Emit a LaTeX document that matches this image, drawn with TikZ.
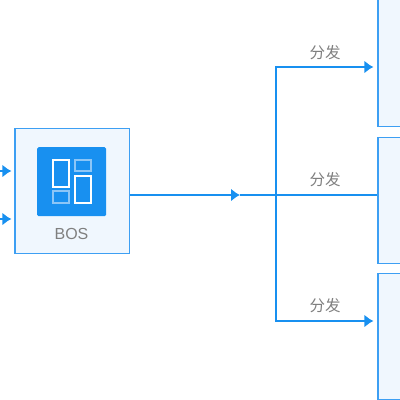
\documentclass[tikz,border=0pt]{standalone}
\usepackage{fontspec}
\usepackage{xcolor}
\usetikzlibrary{arrows.meta,positioning}
\setmainfont{Liberation Sans}
\newfontfamily\cjk{Noto Sans CJK SC}
\definecolor{FlowBlue}{HTML}{1890F0}
\definecolor{EdgeBlue}{HTML}{3D9FF3}
\definecolor{SoftBlue}{HTML}{F0F7FE}
\definecolor{PaleBlue}{HTML}{8CC6F7}
\definecolor{LabelGray}{HTML}{7F7F7F}

\begin{document}
\begin{tikzpicture}[x=1pt,y=-1pt,>={Latex[length=9pt,width=13pt]},
 panel/.style={draw=EdgeBlue,fill=SoftBlue,line width=1.1pt,inner sep=0pt,minimum width=114.5pt,minimum height=124.5pt},
 flow/.style={draw=FlowBlue,line width=2.2pt},
 branch/.style={draw=FlowBlue,line width=2.9pt},
 tile/.style={inner sep=0pt,minimum width=16pt,line width=2.3pt},
 send/.style={text=LabelGray,font=\cjk\fontsize{15.5}{15.5}\selectfont,inner sep=0pt}]
\useasboundingbox (0,0) rectangle (400,400);
\clip (0,0) rectangle (400,400);
\node[panel,anchor=north west] (bos) at (14.4,128.2) {};
\node[panel,anchor=north west,minimum height=140pt] (dist1) at (377.4,-14) {};
\node[panel,anchor=north west,minimum height=125.5pt] (dist2) at (377.4,137.2) {};
\node[panel,anchor=north west,minimum height=125.5pt] (dist3) at (377.4,273.2) {};
\node[anchor=north west,fill=FlowBlue,rounded corners=1.5pt,inner sep=0pt,minimum size=69pt] (icon) at (37,147) {};
\node[tile,draw=white,anchor=north west,minimum height=27pt] (tallL) at (52,159) {};
\node[tile,draw=PaleBlue,anchor=north west,minimum height=11pt] (smallR) at (74,159) {};
\node[tile,draw=white,anchor=north west,minimum height=27pt] (tallR) at (74,175) {};
\node[tile,draw=PaleBlue,anchor=north west,minimum height=12pt] (smallL) at (52,190) {};
\node[text=LabelGray,font=\fontsize{16}{16}\selectfont,inner sep=0pt] (boslabel) at (71.5,234) {BOS};
\coordinate (in1) at (0,171);
\coordinate (in2) at (0,219);
\coordinate (mid) at (240,195);
\coordinate (fork) at (276,195);
\coordinate (up) at (276,67);
\coordinate (down) at (276,321);
\draw[flow,->,shorten >=3pt] (in1)--(in1 -| bos.west);
\draw[flow,->,shorten >=3pt] (in2)--(in2 -| bos.west);
\draw[flow,->] (bos.east |- mid)--(mid);
\draw[flow] (mid)--(mid -| dist2.west);
\draw[branch,line cap=rect] (up)--(down);
\draw[branch,->,shorten >=4pt] (up)--(up -| dist1.west);
\draw[branch,->,shorten >=4pt] (down)--(down -| dist3.west);
\node[send] (send1) at (325,53) {分发};
\node[send] (send2) at (325,180) {分发};
\node[send] (send3) at (325,306) {分发};
\end{tikzpicture}
\end{document}
